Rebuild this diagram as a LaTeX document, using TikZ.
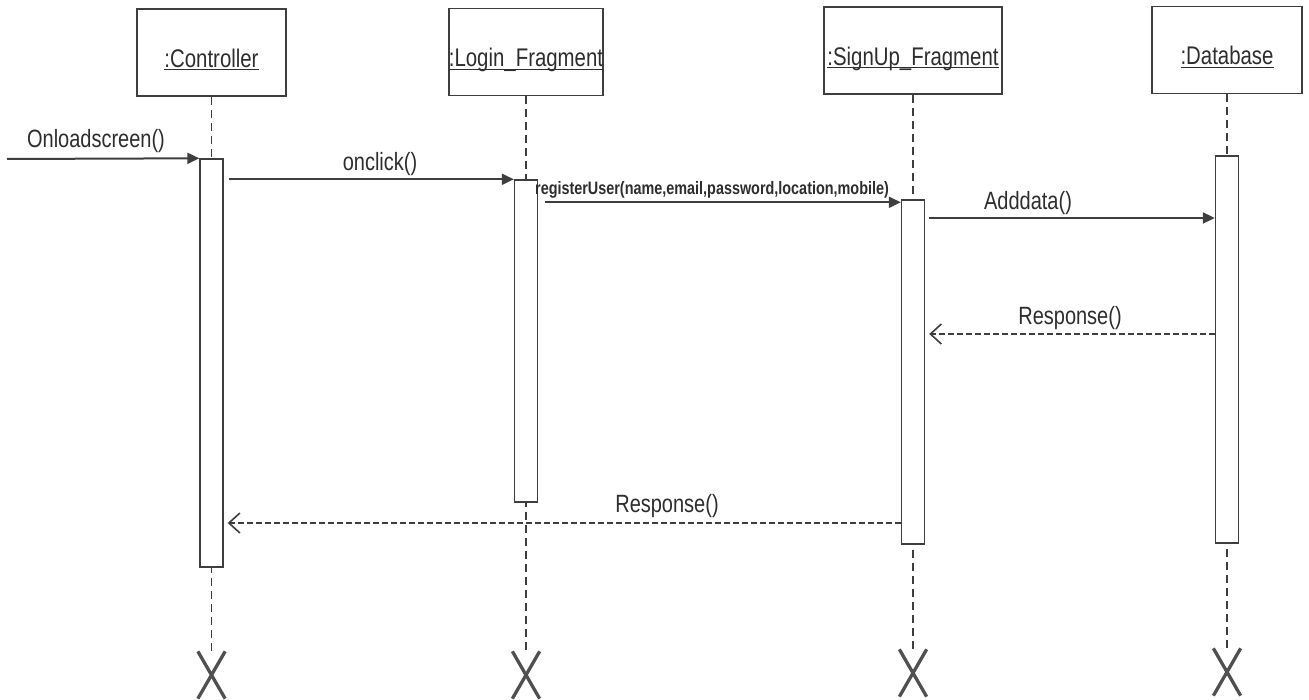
\documentclass[tikz,border=0pt]{standalone}
\usepackage{fontspec}
\setmainfont{Liberation Sans}[FakeStretch=0.8]
\usetikzlibrary{arrows.meta,shapes.misc,calc}
\definecolor{ink}{HTML}{3E3E3E}
\definecolor{txt}{HTML}{2E2E2E}
\definecolor{xink}{HTML}{505050}
\newcommand\uln[1]{\setbox0\hbox{#1}\rlap{\rule[-3pt]{\wd0}{1.3pt}}\box0}
\begin{document}
\begin{tikzpicture}[x=1pt,y=-1pt,
  obj/.style={draw=ink, line width=1.6pt, fill=white, minimum width=#1, minimum height=87pt,
    inner sep=0pt, text height=30pt, text depth=0pt, font=\fontsize{25.5}{29}\selectfont, text=txt},
  bar/.style={draw=ink, line width=1.4pt, fill=white, minimum width=23pt, minimum height=#1, inner sep=0pt},
  life/.style={draw=ink, line width=1.4pt, dash pattern=on 8pt off 5pt},
  msg/.style={draw=ink, line width=2pt, -{Triangle[length=12pt,width=11pt]}},
  ret/.style={draw=ink, line width=1.6pt, dash pattern=on 6pt off 3pt,
    -{Straight Barb[length=11pt,width=20pt,line width=1.6pt]}},
  lbl/.style={anchor=base, text=txt, font=\fontsize{25}{28}\selectfont, inner sep=0pt},
  xmark/.style={cross out, draw=xink, line width=3.3pt, minimum width=24pt, minimum height=44pt, inner sep=0pt}
]
\fill[white] (0,0) rectangle (1309,700);
\useasboundingbox (0,0) rectangle (1309,700);

% objects
\node[obj=149pt] (c) at (211.5,52.5) {\uln{:Controller}};
\node[obj=150pt] (l) at (526,52) {\uln{:Login\_Fragment}};
\node[obj=178pt] (s) at (913,50.5) {\uln{:SignUp\_Fragment}};
\node[obj=150pt] (d) at (1227,50) {\uln{:Database}};

% destruction marks
\node[xmark] (cx) at (211.5,675) {};
\node[xmark] (lx) at (526,675) {};
\node[xmark] (sx) at (913,673) {};
\node[xmark] (dx) at (1227,672) {};

% lifelines
\draw[life] (c.south) -- (cx.north);
\draw[life] (l.south) -- (lx.north);
\draw[life] (s.south) -- (sx.north);
\draw[life] (d.south) -- (dx.north);

% activation bars
\node[bar=408pt] (cb) at (211.5,363) {};
\node[bar=322pt] (lb) at (526,341) {};
\node[bar=344pt] (sb) at (913,372) {};
\node[bar=387pt] (db) at (1227,349.5) {};

% messages
\coordinate (start) at (7,159);
\draw[msg] (start) -- (cb.north west);
\draw[msg, shorten <=5pt] (cb.east |- lb.north) -- (lb.north west);
\draw[msg, shorten <=7pt] ($(lb.east |- sb.north)+(0,3)$) -- ($(sb.north west)+(0,3)$);
\draw[msg, shorten <=4pt] (sb.east |- 0,218) -- (db.west |- 0,218);
\draw[ret, shorten >=4pt] (db.west |- 0,334) -- (sb.east |- 0,334);
\draw[ret, shorten >=4pt] (sb.west |- 0,523) -- (cb.east |- 0,523);

% labels
\node[lbl] (t1) at (96,148) {Onloadscreen()};
\node[lbl] (t2) at (380,171) {onclick()};
\node[lbl, font=\bfseries\fontsize{18}{20}\selectfont] (t3) at (712,195) {registerUser(name,email,password,location,mobile)};
\node[lbl] (t4) at (1028,210) {Adddata()};
\node[lbl] (t5) at (1070,325) {Response()};
\node[lbl] (t6) at (667,512) {Response()};
\end{tikzpicture}
\end{document}
